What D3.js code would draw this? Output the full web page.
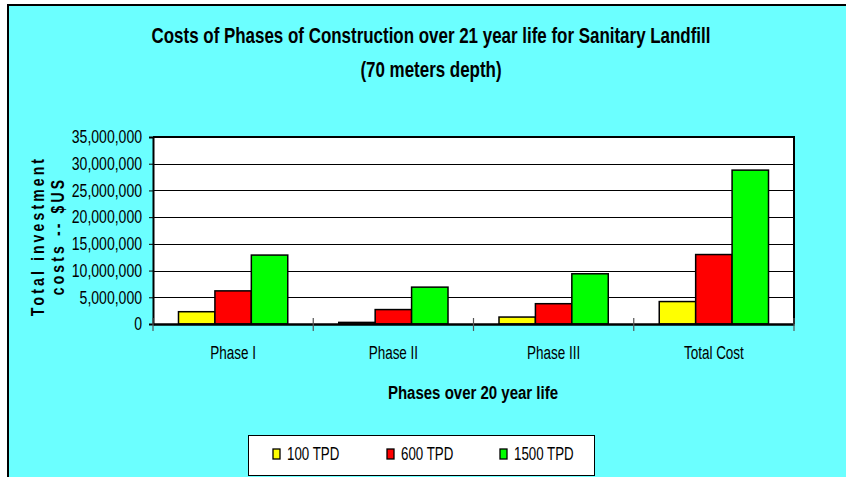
<!DOCTYPE html>
<html>
<head>
<meta charset="utf-8">
<script src="https://cdn.jsdelivr.net/npm/d3@7"></script>
<style>
  html, body { margin: 0; padding: 0; background: #fff; }
  text { font-family: "Liberation Sans", Arial, sans-serif; }
</style>
</head>
<body>
<svg id="chart" width="846" height="477"></svg>
<script>
// data
const categories = ['Phase I', 'Phase II', 'Phase III', 'Total Cost'];
const seriesNames = ['100 TPD', '600 TPD', '1500 TPD'];
const tpd100 = [2300000, 300000, 1300000, 4200000];
const tpd600 = [6200000, 2700000, 3800000, 13000000];
const tpd1500 = [12900000, 6900000, 9400000, 28800000];
const yTicks = [0, 5000000, 10000000, 15000000, 20000000, 25000000, 30000000, 35000000];
const colors = ['#ffff00', '#ff0000', '#00ff00'];

const series = [tpd100, tpd600, tpd1500];

// the original uses a narrow font, so squeeze text horizontally around its anchor
function squeeze(sel, k) {
  sel.each(function () {
    const ax = +this.getAttribute('x') || 0;
    const ay = +this.getAttribute('y') || 0;
    this.setAttribute('transform', `translate(${ax},${ay}) scale(${k},1) translate(${-ax},${-ay})`);
  });
}

const svg = d3.select('#chart');

// background
svg.append('rect')
  .attr('x', 8).attr('y', 5)
  .attr('width', 846).attr('height', 480)
  .attr('fill', '#6bffff')
  .attr('stroke', '#000').attr('stroke-width', 2);

const plot = { left: 153, top: 137, right: 794, bottom: 324 };

const x = d3.scaleBand()
  .domain(categories)
  .range([plot.left, plot.right])
  .paddingInner(0).paddingOuter(0);

const inner = d3.scaleBand()
  .domain(d3.range(series.length))
  .range([0, x.bandwidth()])
  .paddingOuter(0.7).paddingInner(0);

const y = d3.scaleLinear()
  .domain([0, 35000000])
  .range([plot.bottom, plot.top]);

// plot area
svg.append('rect')
  .attr('x', plot.left).attr('y', plot.top)
  .attr('width', plot.right - plot.left).attr('height', plot.bottom - plot.top)
  .attr('fill', '#fff');

// gridlines
svg.append('g')
  .selectAll('line')
  .data(yTicks.slice(1))
  .join('line')
  .attr('x1', plot.left).attr('x2', plot.right)
  .attr('y1', d => Math.round(y(d)) + 0.5).attr('y2', d => Math.round(y(d)) + 0.5)
  .attr('stroke', '#000').attr('stroke-width', 1);

// bars
svg.append('g')
  .selectAll('g')
  .data(series)
  .join('g')
  .attr('fill', (d, i) => colors[i])
  .selectAll('rect')
  .data((vals, si) => vals.map((v, ci) => ({ v, ci, si })))
  .join('rect')
  .attr('x', d => x(categories[d.ci]) + inner(d.si))
  .attr('width', inner.bandwidth())
  .attr('y', d => y(d.v))
  .attr('height', d => y(0) - y(d.v))
  .attr('stroke', '#000').attr('stroke-width', 1.5);

// plot frame top + right
svg.append('path')
  .attr('d', `M${plot.left},${plot.top}H${plot.right}V${plot.bottom}`)
  .attr('fill', 'none').attr('stroke', '#000').attr('stroke-width', 2);

// y axis
const yAxis = svg.append('g')
  .attr('transform', `translate(${plot.left},0)`)
  .call(d3.axisLeft(y).tickValues(yTicks).tickSize(4).tickPadding(7)
    .tickFormat(d3.format(',')));
yAxis.select('.domain').attr('stroke-width', 2);
yAxis.selectAll('text').attr('font-size', 18).attr('fill', '#000').call(squeeze, 0.78);

// x axis
const xAxis = svg.append('g')
  .attr('transform', `translate(0,${plot.bottom})`)
  .call(d3.axisBottom(x).tickSize(0).tickPadding(22));
xAxis.select('.domain').attr('stroke-width', 2.5);
xAxis.selectAll('text').attr('font-size', 19).attr('fill', '#000').call(squeeze, 0.71);

// category boundary ticks
svg.append('g')
  .selectAll('line')
  .data(categories.concat(['end']))
  .join('line')
  .attr('x1', (d, i) => i < categories.length ? x(d) : plot.right)
  .attr('x2', (d, i) => i < categories.length ? x(d) : plot.right)
  .attr('y1', plot.bottom - 6).attr('y2', plot.bottom + 7)
  .attr('stroke', '#555').attr('stroke-width', 1.2);

// titles
svg.append('text')
  .attr('x', 431).attr('y', 43)
  .attr('text-anchor', 'middle')
  .attr('font-size', 22).attr('font-weight', 'bold')
  .text('Costs of Phases of Construction over 21 year life for Sanitary Landfill')
  .call(squeeze, 0.77);
svg.append('text')
  .attr('x', 431).attr('y', 77)
  .attr('text-anchor', 'middle')
  .attr('font-size', 22).attr('font-weight', 'bold')
  .text('(70 meters depth)')
  .call(squeeze, 0.77);

svg.append('text')
  .attr('x', 473).attr('y', 399)
  .attr('text-anchor', 'middle')
  .attr('font-size', 19).attr('font-weight', 'bold')
  .text('Phases over 20 year life')
  .call(squeeze, 0.79);

const yTitle = svg.append('g')
  .attr('transform', 'translate(0,236) rotate(-90)');
yTitle.append('text')
  .attr('x', 0).attr('y', 44)
  .attr('text-anchor', 'middle')
  .attr('font-size', 18).attr('font-weight', 'bold')
  .style('letter-spacing', '4px')
  .text('Total investment')
  .call(squeeze, 0.78);
yTitle.append('text')
  .attr('x', 0).attr('y', 64)
  .attr('text-anchor', 'middle')
  .attr('font-size', 18).attr('font-weight', 'bold')
  .style('letter-spacing', '4px')
  .text('costs -- $US')
  .call(squeeze, 0.78);

// legend
const legend = svg.append('g');
legend.append('rect')
  .attr('x', 248.5).attr('y', 435.5)
  .attr('width', 346).attr('height', 40)
  .attr('fill', '#fff').attr('stroke', '#000').attr('stroke-width', 1);
const legendX = [273, 387, 500];
const items = legend.selectAll('g.item')
  .data(seriesNames)
  .join('g')
  .attr('class', 'item')
  .attr('transform', (d, i) => `translate(${legendX[i]},449)`);
items.append('rect')
  .attr('width', 7).attr('height', 10)
  .attr('fill', (d, i) => colors[i])
  .attr('stroke', '#000').attr('stroke-width', 1.3);
items.append('text')
  .attr('x', 14).attr('y', 11)
  .attr('font-size', 18)
  .text(d => d)
  .call(squeeze, 0.74);
</script>
</body>
</html>
